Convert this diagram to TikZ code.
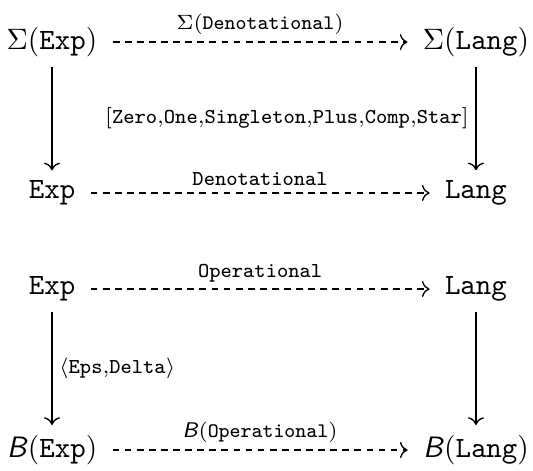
\documentclass[tikz,border=0pt]{standalone}
\usepackage{amsmath,amssymb}
\usepackage{tikz}
\usetikzlibrary{arrows.meta}

% behaviour functor, sans slanted
\newcommand{\Bfun}{\textsf{\itshape B}}
\newcommand{\lblfont}{\fontsize{7.2}{8.5}\selectfont}

\begin{document}
\begin{tikzpicture}[
  line width  = 0.45pt,
  obj/.style  = {inner xsep=5pt, inner ysep=3.3pt},
  lbl/.style  = {font=\lblfont, inner sep=2.2pt},
  arr/.style  = {-{Computer Modern Rightarrow}},
  darr/.style = {arr, dash pattern=on 2.3pt off 1.8pt}
]
\useasboundingbox (0,0) rectangle (6.353,5.602);

% -- Denotational square --
\node[obj] (sexp)  at (0.62,5.101)  {$\Sigma(\mathtt{Exp})$};
\node[obj] (slang) at (5.673,5.101) {$\Sigma(\mathtt{Lang})$};
\node[obj] (dexp)  at (0.62,3.302)  {\texttt{Exp}};
\node[obj] (dlang) at (5.673,3.302) {\texttt{Lang}};

\draw[darr] (sexp) -- node[lbl, above] {$\Sigma(\mathtt{Denotational})$} (slang);
\draw[arr]  (sexp) -- (dexp);
\draw[arr]  (slang) -- node[lbl, left]
            {[\texttt{Zero},\texttt{One},\texttt{Singleton},\texttt{Plus},\texttt{Comp},\texttt{Star}]} (dlang);
\draw[darr] (dexp) -- node[lbl, above] {\texttt{Denotational}} (dlang);

% -- Operational square --
\node[obj] (oexp)  at (0.62,2.157)  {\texttt{Exp}};
\node[obj] (olang) at (5.673,2.157) {\texttt{Lang}};
\node[obj] (bexp)  at (0.62,0.238)  {\Bfun$(\mathtt{Exp})$};
\node[obj] (blang) at (5.673,0.238) {\Bfun$(\mathtt{Lang})$};

\draw[darr] (oexp) -- node[lbl, above] {\texttt{Operational}} (olang);
\draw[arr]  (oexp) -- node[lbl, right] {$\langle$\texttt{Eps},\texttt{Delta}$\rangle$} (bexp);
\draw[arr]  (olang) -- (blang);
\draw[darr] (bexp) -- node[lbl, above] {\Bfun$(\mathtt{Operational})$} (blang);

\end{tikzpicture}
\end{document}
